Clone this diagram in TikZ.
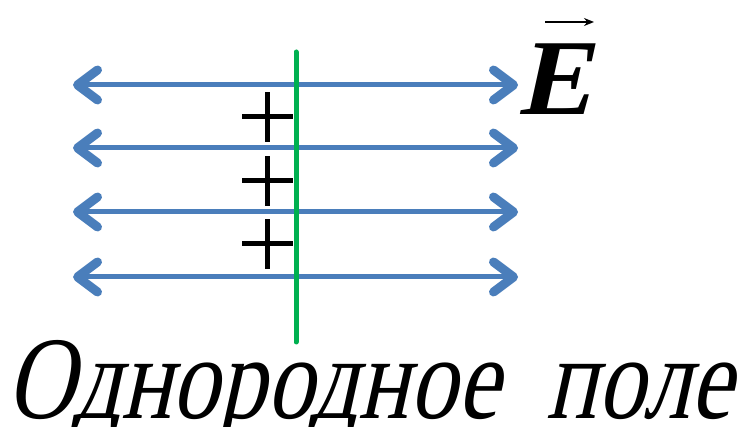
\documentclass[tikz,border=0pt]{standalone}
\usepackage{fontspec}
\setmainfont{Liberation Serif}
\newfontfamily\titlefont{Liberation Serif}[FakeSlant=0.22, FakeStretch=0.8]
\newfontfamily\vecfont{Liberation Serif Bold}[FakeSlant=0.22]
\usetikzlibrary{arrows.meta}
\definecolor{fieldblue}{HTML}{4A7EBB}
\definecolor{plategreen}{HTML}{00B050}
\tikzset{
  fieldline/.style={draw=fieldblue, line width=5pt,
    {Straight Barb[length=20pt, width=30pt, line width=9pt, round]}-{Straight Barb[length=20pt, width=30pt, line width=9pt, round]}},
  plusmark/.style={draw=black, line width=5pt},
  plate/.style={draw=plategreen, line width=5pt, line cap=round}
}
\begin{document}
\begin{tikzpicture}[x=1pt, y=-1pt]
\useasboundingbox (0,0) rectangle (744,427);
\foreach \i/\yy in {1/85, 2/148, 3/212, 4/277}{
  \coordinate (L\i) at (73,\yy);
  \coordinate (R\i) at (518,\yy);
}
\coordinate (Ptop) at (296,52);
\coordinate (Pbot) at (296,342);
\foreach \i in {1,...,4}{ \draw[fieldline] (L\i) -- (R\i); }
\draw[plate] (Ptop) -- (Pbot);
\foreach \i/\yy in {1/117, 2/181, 3/244}{
  \coordinate (C\i) at (267,\yy);
  \draw[plusmark] ([xshift=-25pt]C\i) -- ([xshift=26pt]C\i);
  \draw[plusmark] ([yshift=-25pt]C\i) -- ([yshift=25pt]C\i);
}
\node[anchor=base west, inner sep=0pt, font=\vecfont\fontsize{108}{108}\selectfont] (E) at (518,115) {E};
\coordinate (Va) at (545,22);
\coordinate (Vb) at (594,22);
\draw[line width=2.5pt, -{Stealth[length=10pt, width=8pt]}] (Va) -- (Vb);
\node[anchor=base west, inner sep=0pt, font=\titlefont\fontsize{118}{118}\selectfont] (title) at (6,418) {Однородное\ \ поле};
\end{tikzpicture}
\end{document}
